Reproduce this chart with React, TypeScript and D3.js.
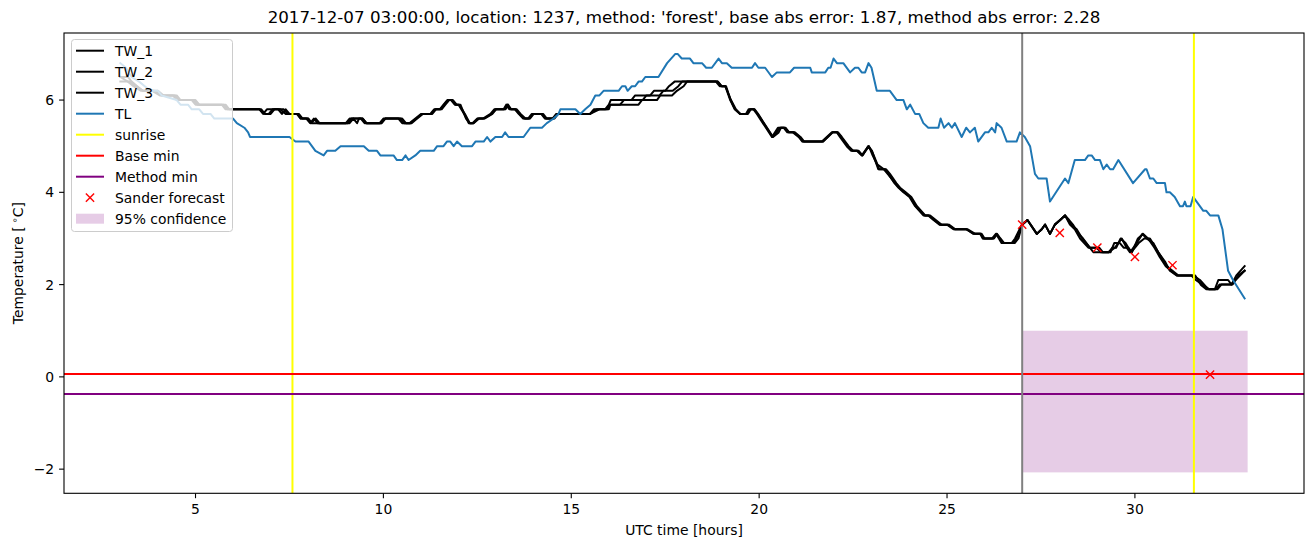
import React from "react";
import * as d3 from "d3";

const TITLE = "2017-12-07 03:00:00, location: 1237, method: 'forest', base abs error: 1.87, method abs error: 2.28";
const X_TICKS = [5, 10, 15, 20, 25, 30];
const Y_TICKS = [-2, 0, 2, 4, 6];

const TL: [number, number][] = [
  [3.0, 6.8], [3.15, 6.7], [3.3, 6.5], [3.5, 6.4], [3.65, 6.3], [3.8, 6.2], [4.0, 6.2], [4.1, 6.1],
  [4.5, 6.0], [4.6, 5.9], [4.8, 5.9], [4.9, 5.8], [5.1, 5.8], [5.2, 5.7], [5.4, 5.7], [5.5, 5.6],
  [6.0, 5.6], [6.1, 5.5], [6.3, 5.4], [6.4, 5.3], [6.45, 5.2], [7.5, 5.2], [7.66, 5.1], [8.01, 5.1],
  [8.19, 4.9], [8.41, 4.8], [8.5, 4.9], [8.72, 4.9], [8.86, 5.0], [9.48, 5.0], [9.61, 4.9], [9.83, 4.9],
  [9.92, 4.8], [10.27, 4.8], [10.36, 4.7], [10.5, 4.7], [10.59, 4.8], [10.67, 4.7], [10.85, 4.8],
  [10.98, 4.9], [11.34, 4.9], [11.43, 5.0], [11.6, 5.0], [11.69, 5.1], [11.78, 5.1], [11.87, 5.0],
  [11.96, 5.1], [12.09, 5.0], [12.36, 5.0], [12.45, 5.1], [12.67, 5.1], [12.76, 5.2], [12.85, 5.1],
  [12.98, 5.2], [13.16, 5.2], [13.24, 5.3], [13.33, 5.2], [13.73, 5.2], [13.91, 5.4], [14.22, 5.4],
  [14.35, 5.5], [14.53, 5.6], [14.66, 5.7], [14.71, 5.8], [15.11, 5.8], [15.24, 5.7], [15.37, 5.8],
  [15.51, 5.9], [15.64, 6.1], [15.75, 6.1], [15.86, 6.2], [16.26, 6.2], [16.35, 6.3], [16.44, 6.3],
  [16.5, 6.2], [16.61, 6.3], [16.7, 6.3], [16.79, 6.4], [16.88, 6.4], [16.97, 6.5], [17.32, 6.5],
  [17.55, 6.8], [17.77, 7.0], [17.83, 7.0], [17.94, 6.9], [18.16, 6.9], [18.25, 6.8], [18.48, 6.8],
  [18.59, 6.7], [18.74, 6.7], [18.92, 6.9], [19.01, 6.8], [19.14, 6.8], [19.27, 6.7], [19.81, 6.7],
  [19.89, 6.8], [19.98, 6.7], [20.16, 6.7], [20.34, 6.5], [20.47, 6.6], [20.82, 6.6], [20.93, 6.7],
  [21.36, 6.7], [21.4, 6.6], [21.76, 6.6], [21.84, 6.7], [21.9, 6.7], [21.98, 6.9], [22.07, 6.8],
  [22.24, 6.8], [22.42, 6.6], [22.55, 6.7], [22.64, 6.7], [22.73, 6.6], [22.82, 6.6], [22.91, 6.8],
  [22.99, 6.7], [23.13, 6.2], [23.48, 6.2], [23.66, 6.0], [23.84, 6.0], [23.93, 5.8], [24.02, 5.9],
  [24.15, 5.7], [24.26, 5.7], [24.37, 5.5], [24.5, 5.4], [24.77, 5.4], [24.83, 5.6], [24.92, 5.4],
  [25.04, 5.5], [25.13, 5.4], [25.21, 5.5], [25.39, 5.2], [25.51, 5.4], [25.61, 5.3], [25.74, 5.4],
  [25.83, 5.1], [26.01, 5.3], [26.1, 5.3], [26.19, 5.4], [26.28, 5.3], [26.32, 5.5], [26.45, 5.4],
  [26.59, 5.1], [26.85, 5.1], [26.94, 5.3], [27.07, 5.2], [27.21, 5.0], [27.34, 4.4], [27.43, 4.3],
  [27.65, 4.3], [27.74, 3.8], [28.14, 4.3], [28.23, 4.2], [28.4, 4.7], [28.67, 4.7], [28.76, 4.8],
  [28.85, 4.8], [28.94, 4.7], [29.07, 4.7], [29.16, 4.5], [29.25, 4.6], [29.34, 4.5], [29.42, 4.5],
  [29.56, 4.7], [29.95, 4.2], [30.27, 4.5], [30.31, 4.5], [30.4, 4.3], [30.49, 4.3], [30.58, 4.2],
  [30.8, 4.2], [30.84, 4.0], [30.93, 4.0], [31.06, 3.9], [31.2, 3.7], [31.28, 3.7], [31.33, 3.8],
  [31.37, 3.7], [31.48, 3.7], [31.55, 3.9], [31.82, 3.6], [31.9, 3.6], [32.0, 3.5], [32.22, 3.5],
  [32.33, 3.2], [32.48, 2.3], [32.61, 2.1], [32.92, 1.7],
];

const TW_1: [number, number][] = [
  [3.0, 6.5], [3.2, 6.4], [3.35, 6.3], [3.55, 6.2], [3.85, 6.2], [4.05, 6.1], [4.4, 6.1], [4.5, 6.0],
  [4.9, 6.0], [5.0, 5.9], [5.7, 5.9], [5.8, 5.8], [6.7, 5.8], [6.8, 5.7], [6.9, 5.8], [7.2, 5.8],
  [7.3, 5.7], [7.4, 5.8], [7.5, 5.7], [7.7, 5.7], [7.8, 5.6], [7.95, 5.6], [8.05, 5.5], [8.15, 5.6],
  [8.25, 5.5], [9.05, 5.5], [9.15, 5.6], [9.4, 5.6], [9.5, 5.5], [9.9, 5.5], [10.0, 5.6], [10.45, 5.6],
  [10.55, 5.5], [10.7, 5.5], [10.85, 5.6], [11.0, 5.7], [11.25, 5.7], [11.35, 5.8], [11.5, 5.8],
  [11.6, 5.9], [11.7, 6.0], [11.8, 6.0], [11.9, 5.9], [12.0, 5.9], [12.15, 5.7], [12.27, 5.5],
  [12.37, 5.5], [12.5, 5.6], [12.65, 5.6], [12.85, 5.7], [12.95, 5.8], [13.2, 5.8], [13.27, 5.9],
  [13.35, 5.8], [13.5, 5.8], [13.6, 5.7], [13.72, 5.6], [13.85, 5.6], [13.95, 5.7], [14.2, 5.7],
  [14.3, 5.6], [14.5, 5.6], [14.6, 5.7], [15.5, 5.7], [15.6, 5.8], [15.9, 5.8], [16.0, 5.9],
  [16.05, 6.0], [16.6, 6.0], [16.7, 6.1], [17.1, 6.1], [17.2, 6.2], [17.5, 6.2], [17.6, 6.3],
  [17.75, 6.4], [18.9, 6.4], [19.0, 6.3], [19.1, 6.3], [19.23, 6.0], [19.35, 5.8], [19.49, 5.7],
  [19.65, 5.7], [19.72, 5.8], [19.85, 5.8], [19.94, 5.7], [20.34, 5.2], [20.5, 5.4], [20.65, 5.4],
  [20.75, 5.3], [20.9, 5.3], [21.05, 5.2], [21.15, 5.1], [21.67, 5.1], [21.8, 5.2], [21.93, 5.3],
  [22.07, 5.3], [22.15, 5.2], [22.33, 5.0], [22.45, 4.9], [22.6, 4.9], [22.73, 4.8], [22.91, 5.0],
  [23.0, 4.9], [23.17, 4.5], [23.35, 4.5], [23.44, 4.4], [23.6, 4.2], [23.71, 4.1], [23.84, 4.0],
  [24.0, 3.9], [24.15, 3.7], [24.37, 3.5], [24.5, 3.5], [24.64, 3.4], [24.8, 3.3], [25.0, 3.3],
  [25.17, 3.2], [25.52, 3.2], [25.7, 3.1], [25.88, 3.1], [25.95, 3.0], [26.23, 3.0], [26.32, 3.1],
  [26.41, 3.0], [26.5, 2.9], [26.72, 2.9], [26.81, 3.0], [26.99, 3.3], [27.14, 3.4], [27.39, 3.1],
  [27.52, 3.2], [27.61, 3.3], [27.74, 3.1], [27.87, 3.3], [28.01, 3.4], [28.14, 3.5], [28.27, 3.3],
  [28.4, 3.2], [28.54, 3.0], [28.76, 2.8], [28.98, 2.8], [29.1, 2.7], [29.29, 2.7], [29.47, 2.8],
  [29.65, 3.0], [29.78, 2.8], [29.87, 2.7], [30.05, 2.9], [30.2, 3.1], [30.31, 3.0], [30.49, 2.9],
  [30.62, 2.7], [30.8, 2.5], [30.93, 2.3], [31.11, 2.2], [31.55, 2.2], [31.73, 2.1], [31.95, 1.9],
  [32.13, 1.9], [32.22, 2.1], [32.48, 2.1], [32.57, 2.0], [32.7, 2.2], [32.92, 2.4],
];

const TW_2: [number, number][] = [
  [3.0, 6.4], [3.25, 6.4], [3.4, 6.3], [3.6, 6.2], [3.9, 6.2], [4.1, 6.1], [4.5, 6.1], [4.6, 6.0],
  [5.0, 6.0], [5.1, 5.9], [5.8, 5.9], [5.9, 5.8], [6.75, 5.8], [6.85, 5.7], [7.0, 5.7], [7.1, 5.8],
  [7.35, 5.8], [7.45, 5.7], [7.75, 5.7], [7.85, 5.6], [8.0, 5.6], [8.1, 5.5], [9.1, 5.5], [9.2, 5.6],
  [9.3, 5.5], [9.35, 5.6], [9.45, 5.6], [9.55, 5.5], [9.95, 5.5], [10.05, 5.6], [10.4, 5.6],
  [10.5, 5.5], [10.75, 5.5], [10.9, 5.6], [11.05, 5.7], [11.3, 5.7], [11.4, 5.8], [11.55, 5.8],
  [11.65, 5.9], [11.75, 6.0], [11.85, 6.0], [11.95, 5.9], [12.05, 5.9], [12.2, 5.6], [12.3, 5.5],
  [12.4, 5.5], [12.55, 5.6], [12.7, 5.6], [12.9, 5.7], [13.0, 5.8], [13.25, 5.8], [13.32, 5.9],
  [13.4, 5.8], [13.55, 5.8], [13.65, 5.7], [13.78, 5.6], [13.9, 5.6], [14.0, 5.7], [14.25, 5.7],
  [14.35, 5.6], [14.55, 5.6], [14.65, 5.7], [15.5, 5.7], [15.75, 5.8], [16.0, 5.8], [16.04, 5.9],
  [16.79, 5.9], [16.88, 6.0], [17.28, 6.0], [17.37, 6.1], [17.68, 6.1], [17.81, 6.2], [17.99, 6.3],
  [18.08, 6.4], [18.85, 6.4], [18.95, 6.3], [19.1, 6.3], [19.25, 6.0], [19.38, 5.8], [19.5, 5.7],
  [19.7, 5.7], [19.78, 5.8], [19.88, 5.8], [19.97, 5.7], [20.37, 5.2], [20.52, 5.3], [20.58, 5.4],
  [20.7, 5.4], [20.8, 5.3], [20.95, 5.3], [21.1, 5.2], [21.2, 5.1], [21.7, 5.1], [21.83, 5.2],
  [21.96, 5.3], [22.1, 5.3], [22.2, 5.2], [22.38, 5.0], [22.5, 4.9], [22.65, 4.9], [22.75, 4.8],
  [22.92, 5.0], [23.02, 4.8], [23.2, 4.5], [23.38, 4.5], [23.48, 4.4], [23.65, 4.2], [23.75, 4.1],
  [23.9, 4.0], [24.05, 3.9], [24.2, 3.7], [24.42, 3.5], [24.55, 3.5], [24.7, 3.4], [24.85, 3.3],
  [25.05, 3.3], [25.22, 3.2], [25.55, 3.2], [25.75, 3.1], [25.92, 3.1], [26.0, 3.0], [26.2, 3.0],
  [26.3, 3.1], [26.38, 3.0], [26.45, 2.9], [26.8, 2.9], [26.9, 3.0], [27.0, 3.3], [27.14, 3.4],
  [27.39, 3.1], [27.52, 3.2], [27.61, 3.3], [27.74, 3.1], [27.87, 3.3], [28.01, 3.4], [28.14, 3.5],
  [28.3, 3.3], [28.45, 3.2], [28.6, 3.0], [28.8, 2.8], [28.9, 2.7], [29.3, 2.7], [29.4, 2.8],
  [29.5, 2.8], [29.62, 3.0], [29.75, 2.9], [29.9, 2.7], [30.1, 2.9], [30.25, 3.0], [30.4, 3.0],
  [30.55, 2.8], [30.7, 2.6], [30.85, 2.4], [31.0, 2.3], [31.15, 2.2], [31.6, 2.2], [31.75, 2.0],
  [31.9, 1.9], [32.2, 1.9], [32.3, 2.0], [32.6, 2.0], [32.75, 2.2], [32.92, 2.3],
];

const TW_3: [number, number][] = [
  [3.0, 6.5], [3.2, 6.5], [3.3, 6.4], [3.45, 6.3], [3.6, 6.2], [4.0, 6.2], [4.15, 6.1], [4.45, 6.1],
  [4.55, 6.0], [4.95, 6.0], [5.05, 5.9], [5.75, 5.9], [5.85, 5.8], [6.7, 5.8], [6.85, 5.7],
  [6.95, 5.7], [7.05, 5.8], [7.25, 5.8], [7.4, 5.7], [7.7, 5.7], [7.8, 5.6], [8.0, 5.6], [8.08, 5.5],
  [8.2, 5.6], [8.3, 5.5], [9.0, 5.5], [9.1, 5.6], [9.45, 5.6], [9.55, 5.5], [9.95, 5.5], [10.05, 5.6],
  [10.5, 5.6], [10.6, 5.5], [10.72, 5.5], [10.88, 5.6], [11.02, 5.7], [11.28, 5.7], [11.38, 5.8],
  [11.52, 5.8], [11.62, 5.9], [11.72, 6.0], [11.82, 6.0], [11.92, 5.9], [12.02, 5.9], [12.17, 5.7],
  [12.3, 5.5], [12.4, 5.5], [12.52, 5.6], [12.68, 5.6], [12.88, 5.7], [12.98, 5.8], [13.22, 5.8],
  [13.3, 5.9], [13.38, 5.8], [13.52, 5.8], [13.62, 5.7], [13.75, 5.6], [13.88, 5.6], [13.98, 5.7],
  [14.22, 5.7], [14.32, 5.6], [14.52, 5.6], [14.62, 5.7], [15.5, 5.7], [15.68, 5.8], [15.95, 5.8],
  [16.02, 5.9], [16.3, 5.9], [16.4, 6.0], [16.9, 6.0], [17.0, 6.1], [17.35, 6.1], [17.45, 6.2],
  [17.7, 6.2], [17.85, 6.3], [17.95, 6.4], [18.9, 6.4], [19.0, 6.3], [19.12, 6.3], [19.24, 6.0],
  [19.36, 5.8], [19.5, 5.7], [19.66, 5.7], [19.75, 5.8], [19.87, 5.8], [19.96, 5.7], [20.36, 5.2],
  [20.46, 5.3], [20.55, 5.4], [20.68, 5.4], [20.78, 5.3], [20.92, 5.3], [21.08, 5.2], [21.17, 5.1],
  [21.7, 5.1], [21.82, 5.2], [21.95, 5.3], [22.08, 5.3], [22.18, 5.2], [22.36, 5.0], [22.48, 4.9],
  [22.62, 4.9], [22.75, 4.8], [22.9, 5.0], [23.0, 4.9], [23.15, 4.6], [23.32, 4.5], [23.42, 4.4],
  [23.62, 4.2], [23.73, 4.1], [23.86, 4.0], [24.02, 3.9], [24.17, 3.7], [24.4, 3.5], [24.52, 3.5],
  [24.66, 3.4], [24.82, 3.3], [25.02, 3.3], [25.2, 3.2], [25.5, 3.2], [25.72, 3.1], [25.9, 3.1],
  [25.97, 3.0], [26.25, 3.0], [26.33, 3.1], [26.42, 3.0], [26.52, 2.9], [26.75, 2.9], [26.85, 3.0],
  [27.0, 3.3], [27.14, 3.4], [27.39, 3.1], [27.52, 3.2], [27.61, 3.3], [27.74, 3.1], [27.87, 3.3],
  [28.01, 3.4], [28.14, 3.5], [28.25, 3.4], [28.35, 3.3], [28.5, 3.1], [28.62, 3.0], [28.8, 2.8],
  [29.05, 2.8], [29.15, 2.7], [29.35, 2.7], [29.45, 2.9], [29.6, 2.9], [29.7, 2.8], [29.82, 2.8],
  [29.92, 2.7], [30.08, 3.0], [30.22, 3.1], [30.35, 3.0], [30.52, 2.8], [30.66, 2.6], [30.82, 2.4],
  [30.96, 2.3], [31.12, 2.2], [31.5, 2.2], [31.62, 2.1], [31.8, 2.0], [31.98, 1.9], [32.15, 1.9],
  [32.25, 2.0], [32.55, 2.0], [32.68, 2.1], [32.92, 2.3],
];

const SUNRISE = [7.58, 31.57];
const FORECAST_START = 27.0;
const BASE_MIN = 0.06;
const METHOD_MIN = -0.37;
const SANDER_T = [27, 28, 29, 30, 31, 32];
const SANDER_V = [3.3, 3.12, 2.8, 2.6, 2.42, 0.05];
const CONF_T = [27.0, 33.0];
const CONF_V = [-2.07, 1.0];

const W = 1313, H = 547;
const L = 64, R = 1304, T = 33, B = 493.3;
const FONT = "'DejaVu Sans', sans-serif";
const FS = 13.9;
const LW = 2;

export default function App() {
  const allX = [...TL.map(d => d[0]), ...CONF_T];
  const allY = [...TL.map(d => d[1]), ...TW_1.map(d => d[1]), ...CONF_V];
  const [x0, x1] = d3.extent(allX) as [number, number];
  const [y0, y1] = d3.extent(allY) as [number, number];
  const mx = (x1 - x0) * 0.05, my = (y1 - y0) * 0.05;
  const x = d3.scaleLinear().domain([x0 - mx, x1 + mx]).range([L, R]);
  const y = d3.scaleLinear().domain([y0 - my, y1 + my]).range([B, T]);
  const line = d3.line<[number, number]>().x(d => x(d[0])).y(d => y(d[1]));

  const legendItems = [
    { label: "TW_1", kind: "line", color: "#000000" },
    { label: "TW_2", kind: "line", color: "#000000" },
    { label: "TW_3", kind: "line", color: "#000000" },
    { label: "TL", kind: "line", color: "#1f77b4" },
    { label: "sunrise", kind: "line", color: "#ffff00" },
    { label: "Base min", kind: "line", color: "#ff0000" },
    { label: "Method min", kind: "line", color: "#800080" },
    { label: "Sander forecast", kind: "x", color: "#ff0000" },
    { label: "95% confidence", kind: "patch", color: "#800080" },
  ];

  const xs = 4.1;
  return (
    <svg width={W} height={H} style={{ position: "absolute", left: 0, top: 0, background: "#fff" }} fontFamily={FONT}>
      <defs>
        <clipPath id="plot"><rect x={L} y={T} width={R - L} height={B - T} /></clipPath>
      </defs>
      <rect x={0} y={0} width={W} height={H} fill="#fff" />
      <g clipPath="url(#plot)">
        <rect x={x(CONF_T[0])} y={y(CONF_V[1])} width={x(CONF_T[1]) - x(CONF_T[0])} height={y(CONF_V[0]) - y(CONF_V[1])} fill="#800080" fillOpacity={0.2} />
        {[TW_1, TW_2, TW_3].map((s, i) => (
          <path key={i} d={line(s) || ""} fill="none" stroke="#000" strokeWidth={LW} strokeLinejoin="round" strokeLinecap="square" />
        ))}
        <path d={line(TL) || ""} fill="none" stroke="#1f77b4" strokeWidth={LW} strokeLinejoin="round" strokeLinecap="square" />
        {SUNRISE.map((t, i) => (
          <line key={i} x1={x(t)} x2={x(t)} y1={T} y2={B} stroke="#ffff00" strokeWidth={LW} />
        ))}
        <line x1={L} x2={R} y1={y(BASE_MIN)} y2={y(BASE_MIN)} stroke="#ff0000" strokeWidth={LW} />
        <line x1={L} x2={R} y1={y(METHOD_MIN)} y2={y(METHOD_MIN)} stroke="#800080" strokeWidth={LW} />
        <line x1={x(FORECAST_START)} x2={x(FORECAST_START)} y1={T} y2={B} stroke="#808080" strokeWidth={LW} />
        {SANDER_T.map((t, i) => (
          <g key={i} stroke="#ff0000" strokeWidth={1.4}>
            <line x1={x(t) - xs} x2={x(t) + xs} y1={y(SANDER_V[i]) - xs} y2={y(SANDER_V[i]) + xs} />
            <line x1={x(t) - xs} x2={x(t) + xs} y1={y(SANDER_V[i]) + xs} y2={y(SANDER_V[i]) - xs} />
          </g>
        ))}
      </g>
      <rect x={L} y={T} width={R - L} height={B - T} fill="none" stroke="#000" strokeWidth={1.1} />
      {X_TICKS.map(t => (
        <g key={t}>
          <line x1={x(t)} x2={x(t)} y1={B} y2={B + 4.9} stroke="#000" strokeWidth={1.1} />
          <text x={x(t)} y={B + 20.8} fontSize={FS} textAnchor="middle" fill="#000">{t}</text>
        </g>
      ))}
      {Y_TICKS.map(v => (
        <g key={v}>
          <line x1={L - 4.9} x2={L} y1={y(v)} y2={y(v)} stroke="#000" strokeWidth={1.1} />
          <text x={L - 9.8} y={y(v)} dy="0.36em" fontSize={FS} textAnchor="end" fill="#000">{v < 0 ? "\u2212" + Math.abs(v) : v}</text>
        </g>
      ))}
      <text x={(L + R) / 2} y={535} fontSize={FS} textAnchor="middle" fill="#000">UTC time [hours]</text>
      <text transform={`translate(23,${(T + B) / 2}) rotate(-90)`} fontSize={FS} textAnchor="middle" fill="#000">
        Temperature [<tspan dx={3} fontSize={9.7} dy={-5.5}>{"\u2218"}</tspan><tspan dy={5.5}>C]</tspan>
      </text>
      <text x={(L + R) / 2} y={23} fontSize={16.7} textAnchor="middle" fill="#000">{TITLE}</text>
      <g>
        <rect x={71.5} y={39.5} width={161} height={192} rx={3} fill="#fff" fillOpacity={0.8} stroke="#cccccc" strokeWidth={1} />
        {legendItems.map((it, i) => {
          const cy = 50.7 + i * 21;
          return (
            <g key={it.label}>
              {it.kind === "line" && <line x1={76} x2={104} y1={cy} y2={cy} stroke={it.color} strokeWidth={LW} />}
              {it.kind === "x" && (
                <g stroke={it.color} strokeWidth={1.4}>
                  <line x1={90 - xs} x2={90 + xs} y1={cy - xs} y2={cy + xs} />
                  <line x1={90 - xs} x2={90 + xs} y1={cy + xs} y2={cy - xs} />
                </g>
              )}
              {it.kind === "patch" && <rect x={76} y={cy - 5} width={28} height={10} fill={it.color} fillOpacity={0.2} />}
              <text x={115} y={cy} dy="0.36em" fontSize={FS} fill="#000">{it.label}</text>
            </g>
          );
        })}
      </g>
    </svg>
  );
}
